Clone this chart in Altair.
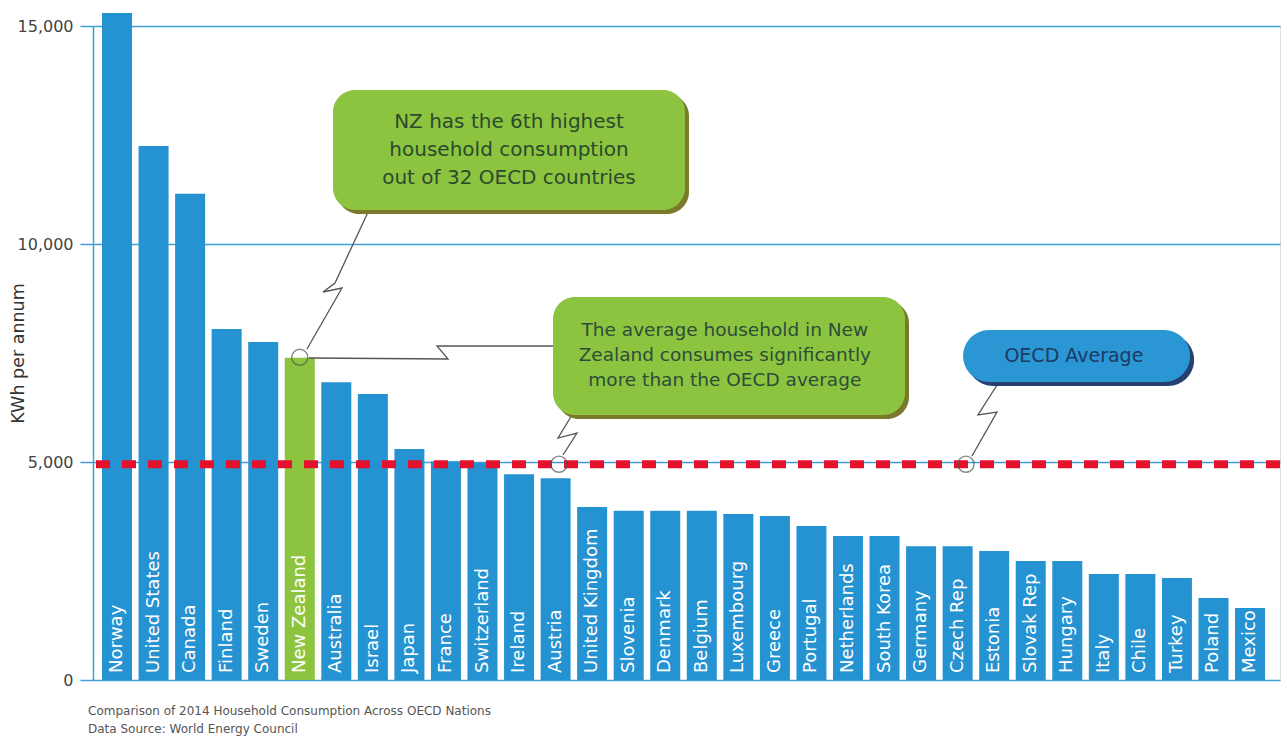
import altair as alt
import pandas as pd

countries = ["Norway", "United States", "Canada", "Finland", "Sweden", "New Zealand",
             "Australia", "Israel", "Japan", "France", "Switzerland", "Ireland", "Austria",
             "United Kingdom", "Slovenia", "Denmark", "Belgium", "Luxembourg", "Greece",
             "Portugal", "Netherlands", "South Korea", "Germany", "Czech Rep", "Estonia",
             "Slovak Rep", "Hungary", "Italy", "Chile", "Turkey", "Poland", "Mexico"]
values = [15300, 12250, 11150, 8050, 7750, 7390, 6830, 6560, 5300, 5020, 4980, 4720, 4630,
          3970, 3880, 3880, 3880, 3810, 3760, 3530, 3300, 3300, 3070, 3070, 2960,
          2730, 2730, 2430, 2430, 2340, 1880, 1650]
oecd_average = 4950
y_ticks = [0, 5000, 10000, 15000]

FONT = "DejaVu Sans"
BLUE = "#2592d1"
GREEN = "#8cc43f"
GRID = "#3f9fd8"

bars = pd.DataFrame({
    "country": countries,
    "kwh": values,
    "idx": list(range(len(countries))),
    "hl": ["NZ" if c == "New Zealand" else "other" for c in countries],
})

xscale = alt.Scale(domain=[-0.657, 31.82], nice=False, zero=False, padding=0)
yscale = alt.Scale(domain=[0, 15000], nice=False)

base = alt.Chart(bars)

bar_layer = base.mark_bar(size=30).encode(
    x=alt.X("idx:Q", scale=xscale, axis=None),
    y=alt.Y("kwh:Q", scale=yscale, title="KWh per annum",
            axis=alt.Axis(values=y_ticks, format=",.0f", grid=True, gridColor=GRID, gridWidth=1.5,
                          domainColor=GRID, domainWidth=1.5, tickColor=GRID, tickWidth=1.5,
                          tickSize=13, labelPadding=7, labelFontSize=16, labelColor="#444",
                          labelFont=FONT, titleFont=FONT, titleFontSize=17.5,
                          titleFontWeight="normal", titleColor="#333", titleAngle=270,
                          titleX=-75, titleY=327, titleAlign="center", titleBaseline="middle")),
    color=alt.Color("hl:N", scale=alt.Scale(domain=["NZ", "other"], range=[GREEN, BLUE]),
                    legend=None),
)

label_layer = base.mark_text(angle=270, align="left", baseline="middle", dx=7,
                             color="white", fontSize=18, font=FONT).encode(
    x=alt.X("idx:Q", scale=xscale),
    y=alt.datum(0),
    text="country:N",
)

avg_df = pd.DataFrame({"avg": [oecd_average]})
avg_layer = alt.Chart(avg_df).mark_rule(color="#e5102c", strokeWidth=8,
                                        strokeDash=[14, 12]).encode(
    y=alt.Y("avg:Q", scale=yscale),
)

# callout boxes (data coordinates: bar index, KWh)
box_x1 = [5.910, 11.929]
box_x2 = [15.540, 21.560]
box_y1 = [10780, 6078]
box_y2 = [13532, 8784]
green_df = pd.DataFrame({"x1": box_x1, "x2": box_x2, "y1": box_y1, "y2": box_y2})
blue_df = pd.DataFrame({"x1": [23.15], "x2": [29.36], "y1": [6835], "y2": [8028]})


def box_layers(df, fill, shadow, radius):
    enc = dict(x=alt.X("x1:Q", scale=xscale), x2="x2:Q",
               y=alt.Y("y1:Q", scale=yscale), y2="y2:Q")
    sh = alt.Chart(df).mark_rect(color=shadow, cornerRadius=radius, xOffset=4, x2Offset=4,
                                 yOffset=4, y2Offset=4).encode(**enc)
    bx = alt.Chart(df).mark_rect(color=fill, cornerRadius=radius).encode(**enc)
    return sh + bx


green_boxes = box_layers(green_df, GREEN, "#7b7a2c", 22)
blue_box = box_layers(blue_df, "#2a96d4", "#26406f", 26)

# pointer lines
ptr_group = ["a"] * 5 + ["b"] * 4 + ["c"] * 4 + ["d"] * 4
ptr_order = [0, 1, 2, 3, 4, 0, 1, 2, 3, 0, 1, 2, 3, 0, 1, 2, 3]
ptr_x = [6.895, 5.964, 5.636, 6.156, 5.198,
         5.253, 9.056, 8.755, 11.929,
         12.449, 12.066, 12.585, 12.202,
         24.131, 23.556, 24.077, 23.393]
ptr_y = [10780, 9106, 8899, 8991, 7592,
         7385, 7362, 7661, 7661,
         6078, 5550, 5665, 5161,
         6835, 6078, 6147, 5138]
ptr_df = pd.DataFrame({"g": ptr_group, "o": ptr_order, "x": ptr_x, "y": ptr_y})
ptr_layer = alt.Chart(ptr_df).mark_line(color="#555", strokeWidth=1.3).encode(
    x=alt.X("x:Q", scale=xscale), y=alt.Y("y:Q", scale=yscale), detail="g:N", order="o:Q")

circ_x = [5.0, 12.093, 23.228]
circ_y = [7400, oecd_average, oecd_average]
circ_df = pd.DataFrame({"x": circ_x, "y": circ_y})
circ_layer = alt.Chart(circ_df).mark_point(shape="circle", size=260, filled=False,
                                           color="#555", strokeWidth=1.4).encode(
    x=alt.X("x:Q", scale=xscale), y=alt.Y("y:Q", scale=yscale))

# callout texts (y = first line)
note_text = ["NZ has the 6th highest\nhousehold consumption\nout of 32 OECD countries",
             "The average household in New\nZealand consumes significantly\nmore than the OECD average",
             "OECD Average"]
note_x = [10.725, 16.63, 26.18]
note_y = [12798, 8028, 7431]
note_size = [20, 18.5, 19]
note_lh = [28, 25, 25]
note_color = ["#2b4a2e", "#2d4c3a", "#1d3a63"]

text_layers = []
for t, x, y, s, lh, c in zip(note_text, note_x, note_y, note_size, note_lh, note_color):
    df = pd.DataFrame({"t": [t], "x": [x], "y": [y]})
    text_layers.append(alt.Chart(df).mark_text(
        lineBreak="\n", align="center", baseline="middle", fontSize=s, lineHeight=lh,
        color=c, font=FONT).encode(
        x=alt.X("x:Q", scale=xscale), y=alt.Y("y:Q", scale=yscale), text="t:N"))

chart = alt.layer(
    bar_layer, label_layer, avg_layer, ptr_layer, circ_layer,
    green_boxes, blue_box, *text_layers
).properties(
    width=1187, height=654,
    autosize=alt.AutoSizeParams(type="none"),
    padding={"left": 93, "top": 26, "right": 7, "bottom": 60},
    title=alt.TitleParams(
        text="Comparison of 2014 Household Consumption Across OECD Nations",
        subtitle="Data Source:  World Energy Council",
        orient="bottom", anchor="start", frame="group", dx=-5, offset=18,
        font=FONT, fontSize=12, fontWeight="normal", color="#555",
        subtitleFont=FONT, subtitleFontSize=12, subtitleColor="#555", subtitlePadding=6),
).configure_view(stroke=None).configure(background="white")

chart.save("out.html", embed_options={"renderer": "svg", "actions": False})
